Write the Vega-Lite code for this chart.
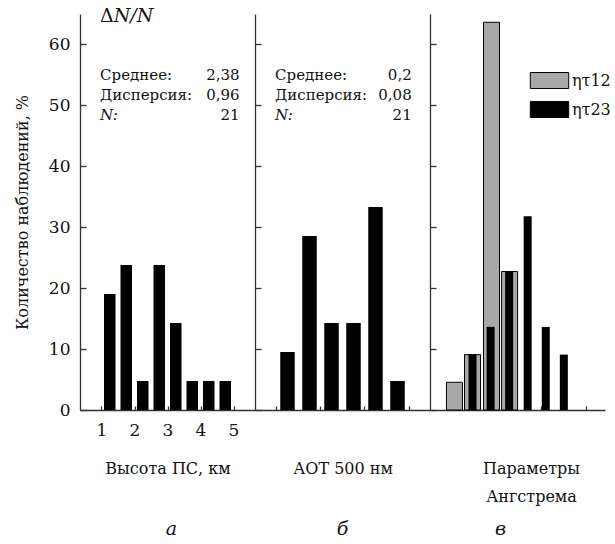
{
  "$schema": "https://vega.github.io/schema/vega-lite/v6.json",
  "autosize": {"type": "pad"},
  "padding": {"left": 14, "top": 7, "right": 0, "bottom": 0},
  "bounds": "flush",
  "spacing": 0,
  "background": "white",
  "config": {
    "font": "DejaVu Serif",
    "view": {"stroke": null},
    "axis": {"grid": false, "domainColor": "#333", "tickColor": "#333", "domainWidth": 1.3, "tickWidth": 1.3, "labelColor": "#111", "labelFont": "DejaVu Serif", "labelFontSize": 17, "titleFont": "DejaVu Serif", "titleFontSize": 16, "titleFontWeight": "normal", "titleColor": "#111"},
    "text": {"font": "DejaVu Serif", "fontSize": 15, "color": "#111"},
    "title": {"font": "DejaVu Serif", "fontSize": 19, "fontStyle": "italic", "fontWeight": "normal", "color": "#111"}
  },
  "datasets": {
    "a": [{"h": 1.25, "p": 19.05}, {"h": 1.75, "p": 23.81}, {"h": 2.25, "p": 4.76}, {"h": 2.75, "p": 23.81}, {"h": 3.25, "p": 14.29}, {"h": 3.75, "p": 4.76}, {"h": 4.25, "p": 4.76}, {"h": 4.75, "p": 4.76}],
    "b": [{"aot": 0.075, "p": 9.52}, {"aot": 0.125, "p": 28.57}, {"aot": 0.175, "p": 14.29}, {"aot": 0.225, "p": 14.29}, {"aot": 0.275, "p": 33.33}, {"aot": 0.325, "p": 4.76}],
    "c": [{"s": "ητ12", "e": 0.79, "p": 4.55}, {"s": "ητ12", "e": 0.99, "p": 9.09}, {"s": "ητ12", "e": 1.2, "p": 63.64}, {"s": "ητ12", "e": 1.4, "p": 22.73}, {"s": "ητ23", "e": 0.99, "p": 9.09}, {"s": "ητ23", "e": 1.19, "p": 13.64}, {"s": "ητ23", "e": 1.395, "p": 22.73}, {"s": "ητ23", "e": 1.6, "p": 31.82}, {"s": "ητ23", "e": 1.8, "p": 13.64}, {"s": "ητ23", "e": 2.0, "p": 9.09}]
  },
  "hconcat": [
    {
      "width": 175, "height": 396,
      "title": {"text": "а", "orient": "bottom", "offset": 44, "dx": 4},
      "layer": [
        {
          "data": {"name": "a"},
          "mark": {"type": "bar", "width": 11.5, "color": "black"},
          "encoding": {
            "x": {"field": "h", "type": "quantitative", "scale": {"domain": [0.5, 5.5], "nice": false, "zero": false},
              "axis": {"values": [1, 1.5, 2, 2.5, 3, 3.5, 4, 4.5, 5], "labelExpr": "datum.value % 1 == 0 ? datum.label : ''", "tickSize": -4, "labelPadding": 16, "title": "Высота ПС, км", "titlePadding": 22}},
            "y": {"field": "p", "type": "quantitative", "scale": {"domain": [0, 65], "nice": false},
              "axis": {"values": [0, 5, 10, 15, 20, 25, 30, 35, 40, 45, 50, 55, 60, 65], "labelExpr": "datum.value % 10 == 0 && datum.value <= 60 ? datum.label : ''", "tickSize": -6, "labelPadding": 16, "title": "Количество наблюдений, %", "titlePadding": 18}}
          }
        },
        {"data": {"values": [{"t": "Δ"}]}, "mark": {"type": "text", "align": "left", "baseline": "middle", "fontSize": 19},
          "encoding": {"text": {"field": "t"}, "x": {"datum": 0.957}, "y": {"datum": 64.6}}},
        {"data": {"values": [{"t": "N/N"}]}, "mark": {"type": "text", "align": "left", "baseline": "middle", "fontStyle": "italic", "fontSize": 19},
          "encoding": {"text": {"field": "t"}, "x": {"datum": 1.37}, "y": {"datum": 64.6}}},
        {"data": {"values": [{"t": "Среднее:\nДисперсия:"}]}, "mark": {"type": "text", "align": "left", "baseline": "middle", "lineBreak": "\n", "lineHeight": 20},
          "encoding": {"text": {"field": "t"}, "x": {"datum": 0.957}, "y": {"datum": 55.0}}},
        {"data": {"values": [{"t": "N:"}]}, "mark": {"type": "text", "align": "left", "baseline": "middle", "fontStyle": "italic"},
          "encoding": {"text": {"field": "t"}, "x": {"datum": 0.957}, "y": {"datum": 48.4}}},
        {"data": {"values": [{"t": "2,38\n0,96\n21"}]}, "mark": {"type": "text", "align": "right", "baseline": "middle", "lineBreak": "\n", "lineHeight": 20},
          "encoding": {"text": {"field": "t"}, "x": {"datum": 5.186}, "y": {"datum": 55.0}}}
      ]
    },
    {
      "width": 175, "height": 396,
      "title": {"text": "б", "orient": "bottom", "offset": 44},
      "layer": [
        {
          "data": {"name": "b"},
          "mark": {"type": "bar", "width": 14.5, "color": "black"},
          "encoding": {
            "x": {"field": "aot", "type": "quantitative", "scale": {"domain": [0.0125, 0.3875], "nice": false, "zero": false},
              "axis": {"values": [0.05, 0.1, 0.15, 0.2, 0.25, 0.3, 0.35], "labelExpr": "abs(datum.value*10 - round(datum.value*10)) < 0.001 ? replace(format(datum.value, '.1f'), '.', ',') : ''", "tickSize": -4, "labelPadding": 16, "title": "АОТ 500 нм", "titlePadding": 22}},
            "y": {"field": "p", "type": "quantitative", "scale": {"domain": [0, 65], "nice": false},
              "axis": {"values": [0, 5, 10, 15, 20, 25, 30, 35, 40, 45, 50, 55, 60, 65], "labels": false, "tickSize": -6, "title": null}}
          }
        },
        {"data": {"values": [{"t": "Среднее:\nДисперсия:"}]}, "mark": {"type": "text", "align": "left", "baseline": "middle", "lineBreak": "\n", "lineHeight": 20},
          "encoding": {"text": {"field": "t"}, "x": {"datum": 0.0468}, "y": {"datum": 55.0}}},
        {"data": {"values": [{"t": "N:"}]}, "mark": {"type": "text", "align": "left", "baseline": "middle", "fontStyle": "italic"},
          "encoding": {"text": {"field": "t"}, "x": {"datum": 0.0468}, "y": {"datum": 48.4}}},
        {"data": {"values": [{"t": "0,2\n0,08\n21"}]}, "mark": {"type": "text", "align": "right", "baseline": "middle", "lineBreak": "\n", "lineHeight": 20},
          "encoding": {"text": {"field": "t"}, "x": {"datum": 0.3573}, "y": {"datum": 55.0}}}
      ]
    },
    {
      "width": 175, "height": 396,
      "title": {"text": "в", "orient": "bottom", "offset": 16, "dx": -17},
      "layer": [
        {
          "data": {"name": "c"},
          "transform": [{"filter": "datum.s == 'ητ12'"}],
          "mark": {"type": "bar", "width": 16, "stroke": "black", "strokeWidth": 1},
          "encoding": {
            "x": {"field": "e", "type": "quantitative", "scale": {"domain": [0.575, 2.4], "nice": false, "zero": false},
              "axis": {"values": [0.75, 1, 1.25, 1.5, 1.75, 2, 2.25], "labelExpr": "(datum.value == 1 || datum.value == 1.5 || datum.value == 2) ? replace(format(datum.value, '.1f'), '.', ',') : ''", "tickSize": -4, "labelPadding": 16, "title": ["Параметры", "Ангстрема"], "titlePadding": 22, "titleLineHeight": 28, "titleX": 101}},
            "y": {"field": "p", "type": "quantitative", "scale": {"domain": [0, 65], "nice": false},
              "axis": {"values": [0, 5, 10, 15, 20, 25, 30, 35, 40, 45, 50, 55, 60, 65], "labels": false, "tickSize": -6, "title": null}},
            "fill": {"field": "s", "type": "nominal", "scale": {"domain": ["ητ12", "ητ23"], "range": ["#a8a8a8", "black"]},
              "legend": {"title": null, "orient": "none", "legendX": 453, "legendY": 50, "symbolType": "M-1.2,-0.5H1.2V0.5H-1.2Z", "symbolSize": 1024, "symbolStrokeColor": "black", "symbolStrokeWidth": 1, "labelFont": "DejaVu Serif", "labelFontSize": 16, "labelColor": "#111", "padding": 0, "rowPadding": 2, "labelOffset": 6}}
          }
        },
        {
          "data": {"name": "c"},
          "transform": [{"filter": "datum.s == 'ητ23'"}],
          "mark": {"type": "bar", "width": 8},
          "encoding": {
            "x": {"field": "e", "type": "quantitative"},
            "y": {"field": "p", "type": "quantitative"},
            "fill": {"field": "s", "type": "nominal"}
          }
        }
      ]
    }
  ]
}
